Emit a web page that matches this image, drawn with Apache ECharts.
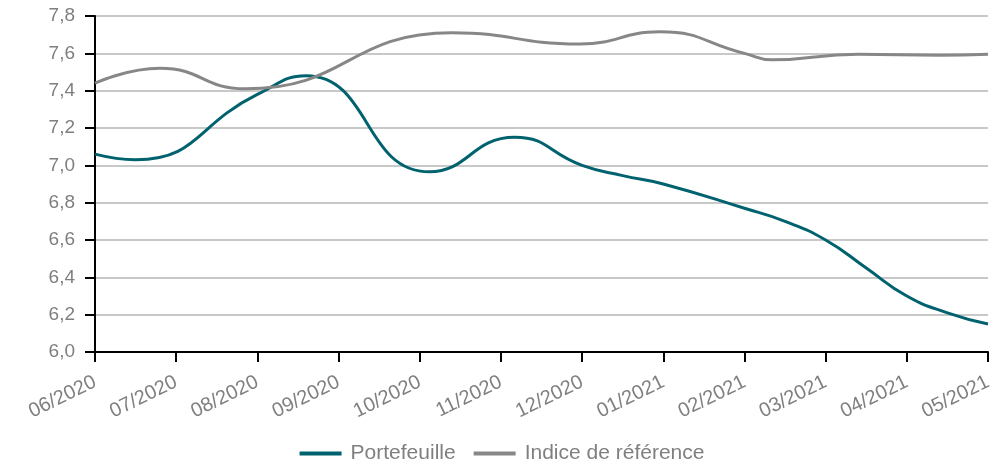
<!DOCTYPE html>
<html>
<head>
<meta charset="utf-8">
<script src="https://cdn.jsdelivr.net/npm/echarts@6/dist/echarts.min.js"></script>
<style>
  html, body { margin: 0; padding: 0; background: #fff; }
  #chart { width: 1004px; height: 469px; }
</style>
</head>
<body>
<div id="chart"></div>
<script>
// month labels on the x axis
var monthLabels = ['06/2020', '07/2020', '08/2020', '09/2020', '10/2020', '11/2020',
                   '12/2020', '01/2021', '02/2021', '03/2021', '04/2021', '05/2021'];

// Portefeuille: position in months from 06/2020, value
var portefeuilleX = [0, 0.5, 2, 2.6, 4.12, 5.17, 6, 6.5, 7, 8, 8.5, 9, 9.5, 10, 10.5, 11];
var portefeuilleY = [7.06, 7.03, 7.38, 7.48, 6.965, 7.15, 7.00, 6.945, 6.90,
                     6.77, 6.70, 6.60, 6.45, 6.30, 6.21, 6.15];

// Indice de référence
var indiceX = [0, 0.8, 1.85, 4.4, 5.97, 6.96, 8, 8.34, 9.4, 10.4, 11];
var indiceY = [7.44, 7.52, 7.41, 7.71, 7.65, 7.715, 7.60, 7.565, 7.595, 7.59, 7.595];

function pairs(xs, ys) {
    var out = [];
    for (var i = 0; i < xs.length; i++) out.push([xs[i], ys[i]]);
    return out;
}

var myChart = echarts.init(document.getElementById('chart'));
var option = {
    animation: false,
    textStyle: { fontFamily: 'Liberation Sans, Arial, sans-serif' },
    grid: { left: 95, right: 16, top: 16, bottom: 117 },
    legend: {
        bottom: 0,
        left: 'center',
        icon: 'rect',
        itemWidth: 42,
        itemHeight: 4,
        itemGap: 18,
        textStyle: { color: '#7f7f7f', fontSize: 21, padding: [0, 0, 0, 4] },
        data: ['Portefeuille', 'Indice de référence']
    },
    xAxis: {
        type: 'value',
        min: 0,
        max: 11,
        interval: 1,
        axisLine: { lineStyle: { color: '#000', width: 2 } },
        axisTick: { length: 10, lineStyle: { color: '#000', width: 2 } },
        splitLine: { show: false },
        axisLabel: {
            rotate: 26,
            color: '#7f7f7f',
            fontSize: 20,
            margin: 29,
            formatter: function (v) { return monthLabels[v] || ''; }
        }
    },
    yAxis: {
        type: 'value',
        min: 6,
        max: 7.8,
        interval: 0.2,
        axisLine: { show: true, lineStyle: { color: '#000', width: 2 } },
        axisTick: { show: true, length: 10, lineStyle: { color: '#000', width: 2 } },
        splitLine: { lineStyle: { color: '#c8c8c8', width: 2 } },
        axisLabel: {
            color: '#7f7f7f',
            fontSize: 19,
            margin: 20,
            formatter: function (v) { return v.toFixed(1).replace('.', ','); }
        }
    },
    series: [
        {
            name: 'Portefeuille',
            type: 'line',
            smooth: true,
            showSymbol: false,
            symbol: 'none',
            lineStyle: { color: '#00626e', width: 3 },
            itemStyle: { color: '#00626e' },
            data: pairs(portefeuilleX, portefeuilleY)
        },
        {
            name: 'Indice de référence',
            type: 'line',
            smooth: true,
            showSymbol: false,
            symbol: 'none',
            lineStyle: { color: '#878787', width: 3 },
            itemStyle: { color: '#878787' },
            data: pairs(indiceX, indiceY)
        }
    ]
};
myChart.setOption(option);
</script>
</body>
</html>
